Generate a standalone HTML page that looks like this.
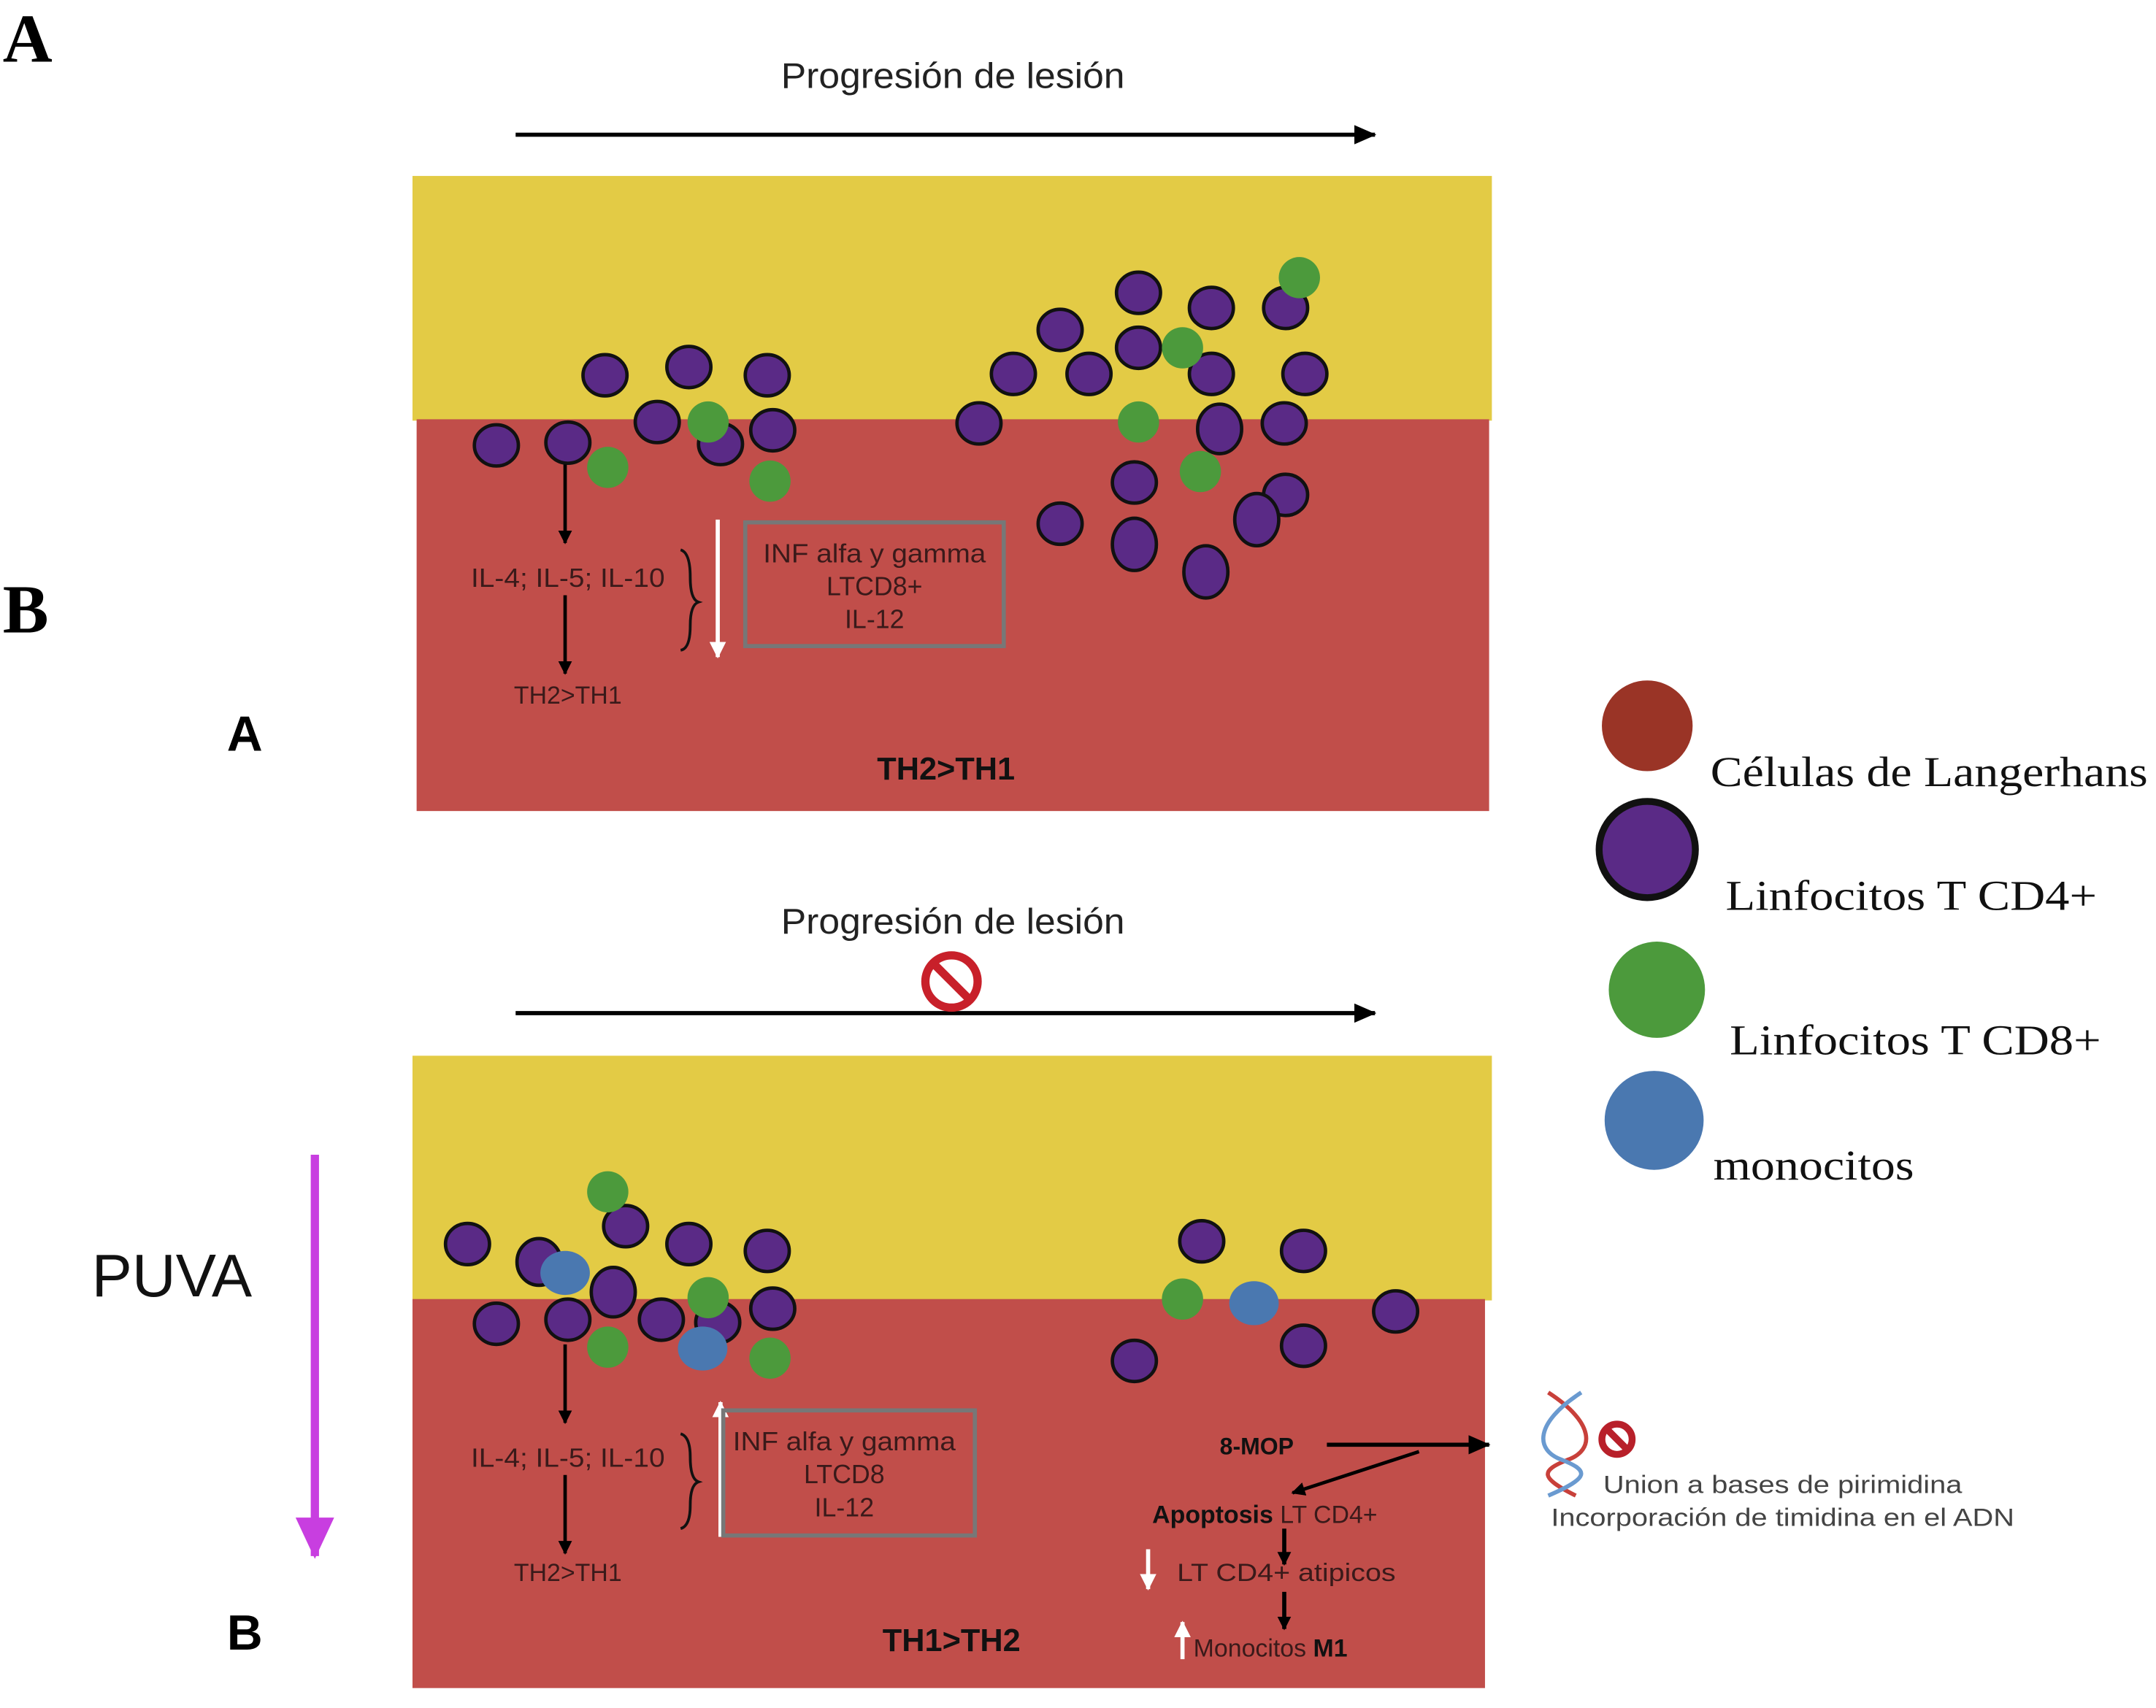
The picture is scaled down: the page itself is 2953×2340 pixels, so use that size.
<!DOCTYPE html>
<html><head><meta charset="utf-8"><style>
html,body{margin:0;padding:0;background:#fff;width:2953px;height:2340px;overflow:hidden}
svg{display:block}
text{font-family:"Liberation Sans",sans-serif}
.s{font-family:"Liberation Serif",serif}
</style></head><body>
<svg width="2953" height="2340" viewBox="0 0 1568 1242.5" preserveAspectRatio="none" xmlns="http://www.w3.org/2000/svg">
<defs>
<marker id="ab" markerWidth="10" markerHeight="10" refX="9" refY="5" orient="auto" markerUnits="userSpaceOnUse"><path d="M0,0 L10,5 L0,10 z" fill="#000"/></marker>
<marker id="ab2" markerWidth="16" markerHeight="14" refX="15" refY="7" orient="auto" markerUnits="userSpaceOnUse"><path d="M0,0 L16,7 L0,14 z" fill="#000"/></marker>
<marker id="aw" markerWidth="12" markerHeight="12" refX="11" refY="6" orient="auto" markerUnits="userSpaceOnUse"><path d="M0,0 L12,6 L0,12 z" fill="#fff"/></marker>
<marker id="am" markerWidth="30" markerHeight="28" refX="28" refY="14" orient="auto" markerUnits="userSpaceOnUse"><path d="M0,0 L30,14 L0,28 z" fill="#c83ee0"/></marker>
</defs>
<text x="2" y="45" class="s" font-size="50" font-weight="bold">A</text>
<text x="2" y="460" class="s" font-size="50" font-weight="bold">B</text>
<text x="693" y="64" font-size="26" text-anchor="middle" fill="#222" textLength="250" lengthAdjust="spacingAndGlyphs">Progresión de lesión</text>
<line x1="375" y1="98" x2="1000" y2="98" stroke="#000" stroke-width="3" marker-end="url(#ab2)"/>
<rect x="300" y="128" width="785" height="178" fill="#e3cb45"/>
<rect x="303" y="305" width="780" height="285" fill="#c14e4a"/>
<text x="693" y="679" font-size="26" text-anchor="middle" fill="#222" textLength="250" lengthAdjust="spacingAndGlyphs">Progresión de lesión</text>
<line x1="375" y1="737" x2="1000" y2="737" stroke="#000" stroke-width="3" marker-end="url(#ab2)"/>
<circle cx="692" cy="714" r="19" fill="none" stroke="#c8202a" stroke-width="6"/>
<line x1="680" y1="702" x2="704" y2="726" stroke="#c8202a" stroke-width="6"/>
<rect x="300" y="768" width="785" height="178" fill="#e3cb45"/>
<rect x="300" y="945" width="780" height="283" fill="#c14e4a"/>
<g fill="#5a2a86" stroke="#111" stroke-width="2.5">
<ellipse cx="440" cy="273" rx="16" ry="15"/><ellipse cx="501" cy="267" rx="16" ry="15"/><ellipse cx="558" cy="273" rx="16" ry="15"/><ellipse cx="478" cy="307" rx="16" ry="15"/><ellipse cx="524" cy="323" rx="16" ry="15"/><ellipse cx="562" cy="313" rx="16" ry="15"/><ellipse cx="361" cy="324" rx="16" ry="15"/><ellipse cx="413" cy="322" rx="16" ry="15"/>
<ellipse cx="737" cy="272" rx="16" ry="15"/><ellipse cx="771" cy="240" rx="16" ry="15"/><ellipse cx="792" cy="272" rx="16" ry="15"/><ellipse cx="828" cy="213" rx="16" ry="15"/><ellipse cx="881" cy="224" rx="16" ry="15"/><ellipse cx="828" cy="253" rx="16" ry="15"/><ellipse cx="881" cy="272" rx="16" ry="15"/><ellipse cx="935" cy="224" rx="16" ry="15"/><ellipse cx="949" cy="272" rx="16" ry="15"/><ellipse cx="712" cy="308" rx="16" ry="15"/><ellipse cx="887" cy="312" rx="16" ry="18"/><ellipse cx="934" cy="308" rx="16" ry="15"/><ellipse cx="825" cy="351" rx="16" ry="15"/><ellipse cx="935" cy="360" rx="16" ry="15"/><ellipse cx="914" cy="378" rx="16" ry="19"/><ellipse cx="771" cy="381" rx="16" ry="15"/><ellipse cx="825" cy="396" rx="16" ry="19"/><ellipse cx="877" cy="416" rx="16" ry="19"/>
<ellipse cx="340" cy="905" rx="16" ry="15"/><ellipse cx="392" cy="918" rx="16" ry="17"/><ellipse cx="455" cy="892" rx="16" ry="15"/><ellipse cx="501" cy="905" rx="16" ry="15"/><ellipse cx="558" cy="910" rx="16" ry="15"/><ellipse cx="446" cy="940" rx="16" ry="18"/><ellipse cx="361" cy="963" rx="16" ry="15"/><ellipse cx="413" cy="960" rx="16" ry="15"/><ellipse cx="481" cy="960" rx="16" ry="15"/><ellipse cx="522" cy="962" rx="16" ry="15"/><ellipse cx="562" cy="952" rx="16" ry="15"/><ellipse cx="874" cy="903" rx="16" ry="15"/><ellipse cx="948" cy="910" rx="16" ry="15"/><ellipse cx="1015" cy="954" rx="16" ry="15"/><ellipse cx="948" cy="979" rx="16" ry="15"/><ellipse cx="825" cy="990" rx="16" ry="15"/>
</g>
<g fill="#4c9a3c">
<circle cx="442" cy="340" r="15"/><circle cx="515" cy="307" r="15"/><circle cx="560" cy="350" r="15"/><circle cx="945" cy="202" r="15"/><circle cx="860" cy="253" r="15"/><circle cx="828" cy="307" r="15"/><circle cx="873" cy="343" r="15"/>
<circle cx="442" cy="867" r="15"/><circle cx="515" cy="944" r="15"/><circle cx="442" cy="980" r="15"/><circle cx="560" cy="988" r="15"/><circle cx="860" cy="945" r="15"/>
</g>
<g fill="#4a78b0">
<ellipse cx="411" cy="926" rx="18" ry="16"/><ellipse cx="511" cy="981" rx="18" ry="16"/><ellipse cx="912" cy="948" rx="18" ry="16"/>
</g>
<line x1="411" y1="338" x2="411" y2="395" stroke="#000" stroke-width="2.5" marker-end="url(#ab)"/>
<text x="413" y="427" font-size="19" text-anchor="middle" fill="#3a1a1a" textLength="141" lengthAdjust="spacingAndGlyphs">IL-4; IL-5; IL-10</text>
<line x1="411" y1="433" x2="411" y2="490" stroke="#000" stroke-width="2.5" marker-end="url(#ab)"/>
<text x="413" y="512" font-size="18" text-anchor="middle" fill="#3a1a1a">TH2&gt;TH1</text>
<path d="M495,400 Q502,402 502,420 Q502,436 508,438 Q502,440 502,455 Q502,472 495,473" fill="none" stroke="#111" stroke-width="2"/>
<line x1="522" y1="378" x2="522" y2="478" stroke="#fff" stroke-width="3" marker-end="url(#aw)"/>
<rect x="542" y="380" width="188" height="90" fill="none" stroke="#777" stroke-width="3"/>
<text x="636" y="409" font-size="19" text-anchor="middle" fill="#3a1a1a" textLength="162" lengthAdjust="spacingAndGlyphs">INF alfa y gamma</text>
<text x="636" y="433" font-size="19" text-anchor="middle" fill="#3a1a1a">LTCD8+</text>
<text x="636" y="457" font-size="19" text-anchor="middle" fill="#3a1a1a">IL-12</text>
<text x="688" y="567" font-size="23" font-weight="bold" text-anchor="middle" fill="#111">TH2&gt;TH1</text>
<text x="178" y="546" font-size="36" font-weight="bold" text-anchor="middle">A</text>
<text x="125" y="943" font-size="44" text-anchor="middle" fill="#111">PUVA</text>
<line x1="229" y1="840" x2="229" y2="1132" stroke="#c83ee0" stroke-width="6" marker-end="url(#am)"/>
<line x1="411" y1="978" x2="411" y2="1035" stroke="#000" stroke-width="2.5" marker-end="url(#ab)"/>
<text x="413" y="1067" font-size="19" text-anchor="middle" fill="#3a1a1a" textLength="141" lengthAdjust="spacingAndGlyphs">IL-4; IL-5; IL-10</text>
<line x1="411" y1="1073" x2="411" y2="1130" stroke="#000" stroke-width="2.5" marker-end="url(#ab)"/>
<text x="413" y="1150" font-size="18" text-anchor="middle" fill="#3a1a1a">TH2&gt;TH1</text>
<path d="M495,1043 Q502,1045 502,1060 Q502,1076 508,1078 Q502,1080 502,1095 Q502,1110 495,1112" fill="none" stroke="#111" stroke-width="2"/>
<line x1="524" y1="1118" x2="524" y2="1020" stroke="#fff" stroke-width="3" marker-end="url(#aw)"/>
<rect x="526" y="1026" width="183" height="91" fill="none" stroke="#777" stroke-width="3"/>
<text x="614" y="1055" font-size="19" text-anchor="middle" fill="#3a1a1a" textLength="162" lengthAdjust="spacingAndGlyphs">INF alfa y gamma</text>
<text x="614" y="1079" font-size="19" text-anchor="middle" fill="#3a1a1a">LTCD8</text>
<text x="614" y="1103" font-size="19" text-anchor="middle" fill="#3a1a1a">IL-12</text>
<text x="692" y="1201" font-size="23" font-weight="bold" text-anchor="middle" fill="#111">TH1&gt;TH2</text>
<text x="178" y="1200" font-size="36" font-weight="bold" text-anchor="middle">B</text>
<text x="914" y="1058" font-size="17" font-weight="bold" text-anchor="middle" fill="#111">8-MOP</text>
<line x1="965" y1="1051" x2="1083" y2="1051" stroke="#000" stroke-width="3" marker-end="url(#ab2)"/>
<line x1="1032" y1="1056" x2="940" y2="1086" stroke="#000" stroke-width="2.5" marker-end="url(#ab)"/>
<text x="838" y="1108" font-size="18" fill="#111"><tspan font-weight="bold">Apoptosis</tspan> <tspan fill="#3a1a1a">LT CD4+</tspan></text>
<line x1="934" y1="1112" x2="934" y2="1138" stroke="#000" stroke-width="3" marker-end="url(#ab)"/>
<line x1="835" y1="1127" x2="835" y2="1156" stroke="#fff" stroke-width="3" marker-end="url(#aw)"/>
<text x="856" y="1150" font-size="18" fill="#3a1a1a" textLength="159" lengthAdjust="spacingAndGlyphs">LT CD4+ atipicos</text>
<line x1="934" y1="1158" x2="934" y2="1185" stroke="#000" stroke-width="3" marker-end="url(#ab)"/>
<line x1="860" y1="1207" x2="860" y2="1180" stroke="#fff" stroke-width="3" marker-end="url(#aw)"/>
<text x="868" y="1205" font-size="18" fill="#3a1a1a">Monocitos <tspan font-weight="bold" fill="#111">M1</tspan></text>
<path d="M1126,1013 C1160,1035 1160,1055 1140,1062 C1120,1070 1120,1075 1146,1088" fill="none" stroke="#c8403a" stroke-width="3"/>
<path d="M1150,1013 C1116,1035 1116,1055 1136,1062 C1156,1070 1156,1075 1126,1088" fill="none" stroke="#6a9ad0" stroke-width="3"/>
<circle cx="1176" cy="1047" r="11" fill="none" stroke="#b8202a" stroke-width="5"/>
<line x1="1169" y1="1040" x2="1183" y2="1054" stroke="#b8202a" stroke-width="5"/>
<text x="1166" y="1086" font-size="18" fill="#444" textLength="261" lengthAdjust="spacingAndGlyphs">Union a bases de pirimidina</text>
<text x="1128" y="1110" font-size="18" fill="#444" textLength="337" lengthAdjust="spacingAndGlyphs">Incorporación de timidina en el ADN</text>
<circle cx="1198" cy="528" r="33" fill="#9a3426"/>
<text x="1244" y="572" class="s" font-size="31" fill="#111" textLength="318" lengthAdjust="spacingAndGlyphs">Células de Langerhans</text>
<circle cx="1198" cy="618" r="35" fill="#5a2a86" stroke="#111" stroke-width="5"/>
<text x="1255" y="662" class="s" font-size="31" fill="#111" textLength="270" lengthAdjust="spacingAndGlyphs">Linfocitos T CD4+</text>
<circle cx="1205" cy="720" r="35" fill="#4c9a3c"/>
<text x="1258" y="767" class="s" font-size="31" fill="#111" textLength="270" lengthAdjust="spacingAndGlyphs">Linfocitos T CD8+</text>
<circle cx="1203" cy="815" r="36" fill="#4a78b0"/>
<text x="1246" y="858" class="s" font-size="31" fill="#111" textLength="146" lengthAdjust="spacingAndGlyphs">monocitos</text>
</svg>
</body></html>
